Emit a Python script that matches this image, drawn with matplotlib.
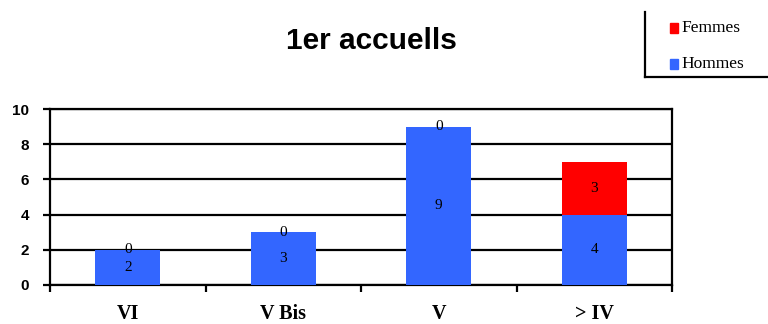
import matplotlib
matplotlib.use("Agg")
import matplotlib.pyplot as plt
from matplotlib.lines import Line2D
from matplotlib.patches import Rectangle

categories = ["VI", "V Bis", "V", "> IV"]
hommes = [2, 3, 9, 4]
femmes = [0, 0, 0, 3]
yticks = [0, 2, 4, 6, 8, 10]

blue = "#3366FF"
red = "#FF0000"

fig = plt.figure(figsize=(7.68, 3.24), dpi=100)
W, H = 768, 324
ax = fig.add_axes([50 / W, (H - 285) / H, 622 / W, 176 / H])

x = list(range(len(categories)))
bw = 0.42
ax.bar(x, hommes, width=bw, color=blue, zorder=3)
ax.bar(x, femmes, width=bw, bottom=hommes, color=red, zorder=3)

for i in x:
    ax.text(i, hommes[i] / 2, str(hommes[i]), ha="center", va="center",
            fontsize=11, family="Liberation Serif", zorder=4)
    ax.text(i, hommes[i] + femmes[i] / 2, str(femmes[i]), ha="center",
            va="center", fontsize=11, family="Liberation Serif", zorder=4)

for yv in yticks:
    ax.axhline(yv, color="black", lw=1.6, zorder=2)

ax.set_xlim(-0.5, len(categories) - 0.5)
ax.set_ylim(0, 10)
ax.set_yticks(yticks)
ax.set_yticklabels([str(v) for v in yticks], fontsize=11, fontweight="bold",
                   family="Liberation Sans")
ax.tick_params(axis="y", direction="out", length=5, width=1.6, pad=10)

ax.set_xticks([i - 0.5 for i in range(len(categories) + 1)])
ax.set_xticklabels([""] * (len(categories) + 1))
ax.tick_params(axis="x", which="major", direction="out", length=5, width=1.6)
ax.set_xticks(x, minor=True)
ax.set_xticklabels(categories, minor=True, fontsize=14.5, fontweight="bold",
                   family="Liberation Serif")
ax.tick_params(axis="x", which="minor", length=0, pad=14)

for s in ["left", "right", "top", "bottom"]:
    ax.spines[s].set_linewidth(1.6)
    ax.spines[s].set_color("black")
ax.set_facecolor("white")

fig.text(371 / W, 1 - 41 / H, "1er accuells", ha="center", va="center",
         fontsize=21.5, fontweight="bold", family="Liberation Sans")

# legend box (partially clipped, like the reference)
fig.add_artist(Line2D([645 / W, 645 / W], [1 - 12 / H, 1 - 77 / H],
                      transform=fig.transFigure, color="black", lw=1.6))
fig.add_artist(Line2D([645 / W, 1.0], [1 - 77 / H, 1 - 77 / H],
                      transform=fig.transFigure, color="black", lw=1.6))
fig.add_artist(Rectangle((670 / W, 1 - 33 / H), 8 / W, 10 / H,
                         transform=fig.transFigure, color=red))
fig.add_artist(Rectangle((670 / W, 1 - 69 / H), 8 / W, 10 / H,
                         transform=fig.transFigure, color=blue))
fig.text(681 / W, 1 - 28 / H, "Femmes", ha="left", va="center", fontsize=12.5,
         family="Liberation Serif")
fig.text(681 / W, 1 - 64 / H, "Hommes", ha="left", va="center", fontsize=12.5,
         family="Liberation Serif")

fig.savefig("out.png", dpi=100, facecolor="white")
